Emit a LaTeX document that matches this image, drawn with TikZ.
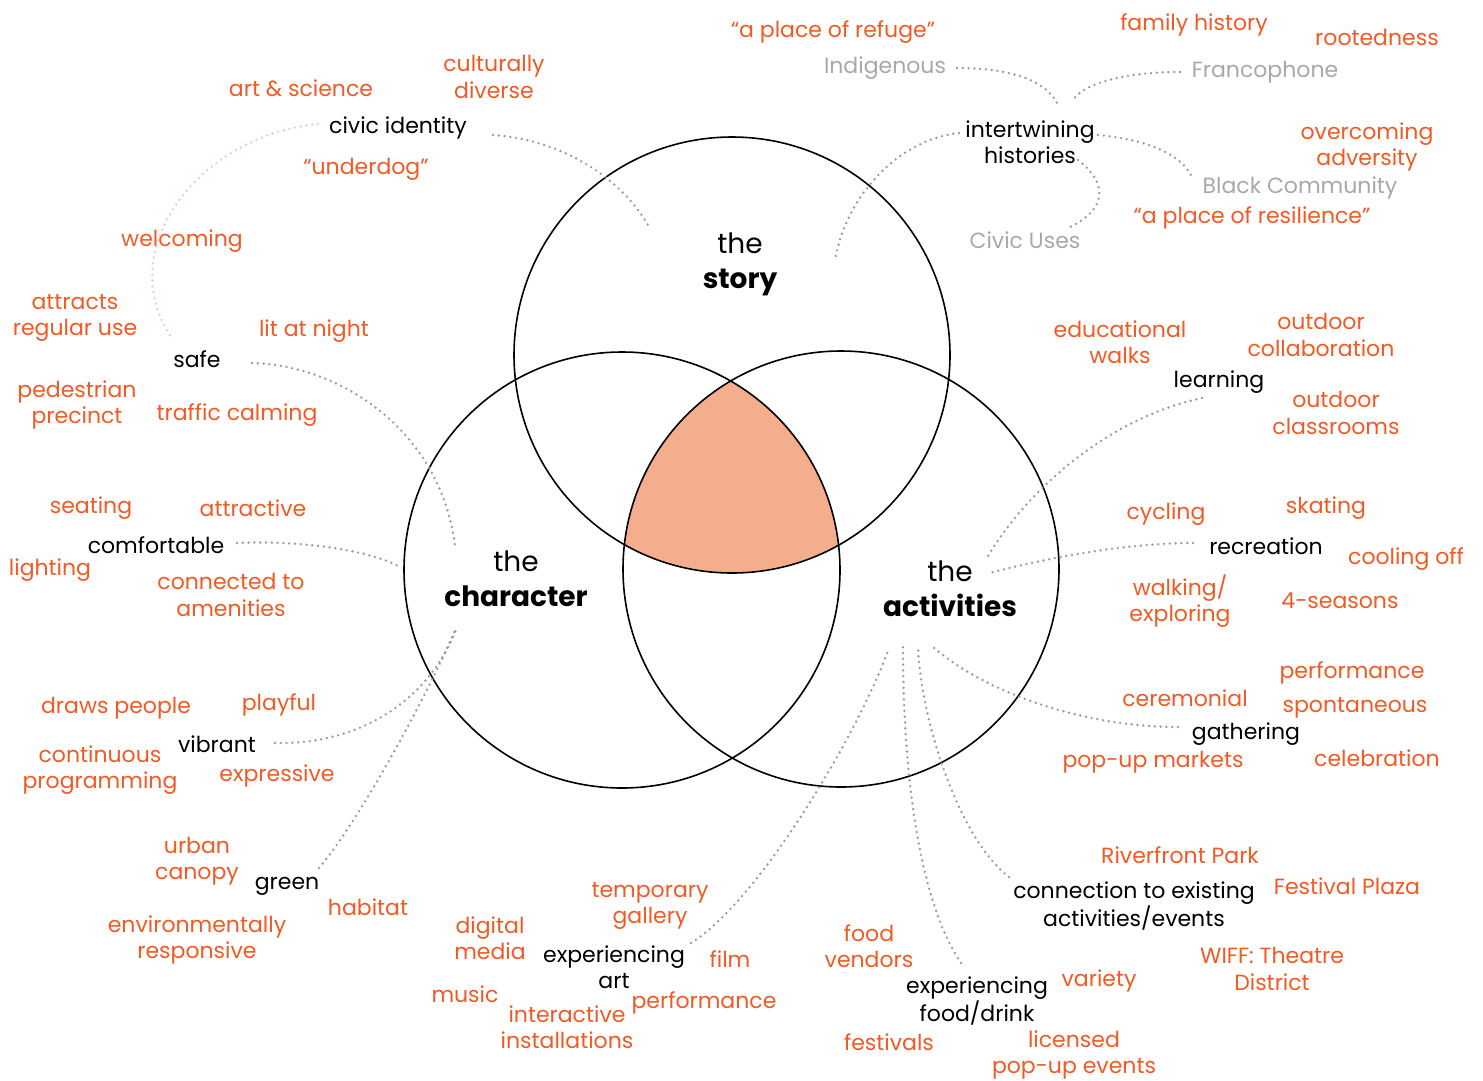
\documentclass[tikz,border=0pt]{standalone}
\usepackage{fontspec}
\setmainfont{Poppins}
\usetikzlibrary{calc}
\definecolor{orangetxt}{HTML}{F15A24}
\definecolor{greytxt}{HTML}{A8A8A8}
\definecolor{dotgrey}{HTML}{9C9C9C}
\definecolor{faintpink}{HTML}{EDCCC7}
\definecolor{peach}{HTML}{F5AE8D}

\begin{document}
\begin{tikzpicture}[x=1pt, y=-1pt,
    lbl/.style={font=\fontsize{22}{26.5}\selectfont, text=orangetxt, align=center, inner sep=0pt, yshift=-2pt},
    theme/.style={lbl, text=black},
    origin/.style={lbl, text=greytxt},
    title/.style={font=\fontsize{28}{35}\selectfont, align=center, inner sep=0pt},
    conn/.style={draw=dotgrey, line width=2.7pt, line cap=round, dash pattern=on 0pt off 5.8pt},
    faint/.style={conn, draw=faintpink}]
    \useasboundingbox (0,0) rectangle (1483,1080);

    \coordinate (S) at (732,355);
    \coordinate (C) at (622,570);
    \coordinate (A) at (841,569);

    % shared centre
    \begin{scope}
        \clip (S) circle[radius=218pt];
        \clip (C) circle[radius=218pt];
        \fill[peach] (A) circle[radius=218pt];
    \end{scope}
    \draw[line width=1.6pt] (S) circle[radius=218pt];
    \draw[line width=1.6pt] (C) circle[radius=218pt];
    \draw[line width=1.6pt] (A) circle[radius=218pt];

    \node[title] (story) at (740,264) {the\\\textbf{story}};
    \node[title] (character) at (516,579) {the\\\textbf{character}};
    \node[title] (activities) at (950,589) {the\\\textbf{activities}};

    % the story
    \node[theme] (civic) at (398,126) {civic identity};
    \node[lbl] (culture) at (494,75) {culturally\\diverse};
    \node[lbl] (artsci) at (301,86) {art \& science};
    \node[lbl] (underdog) at (366,167) {“underdog”};
    \node[lbl] (welcoming) at (182,239) {welcoming};
    \node[theme] (inter) at (1030,140) {intertwining\\histories};
    \node[origin] (indig) at (885,66) {Indigenous};
    \node[origin] (franco) at (1265,70) {Francophone};
    \node[origin] (black) at (1300,186) {Black Community};
    \node[origin] (civuse) at (1025,238) {Civic Uses};
    \node[lbl] (refuge) at (833,30) {“a place of refuge”};
    \node[lbl] (family) at (1194,23) {family history};
    \node[lbl] (rooted) at (1377,35) {rootedness};
    \node[lbl] (overcome) at (1367,145) {overcoming\\adversity};
    \node[lbl] (resil) at (1252,216) {“a place of resilience”};

    % the character
    \node[theme] (safe) at (197,357) {safe};
    \node[lbl] (attracts) at (75,316) {attracts\\regular use};
    \node[lbl] (litnight) at (314,329) {lit at night};
    \node[lbl] (pedest) at (77,403) {pedestrian\\precinct};
    \node[lbl] (traffic) at (237,413) {traffic calming};
    \node[theme] (comfort) at (156,543) {comfortable};
    \node[lbl] (seating) at (91,506) {seating};
    \node[lbl] (attract) at (253,506) {attractive};
    \node[lbl] (lighting) at (50,568) {lighting};
    \node[lbl] (amen) at (231,593) {connected to\\amenities};
    \node[theme] (vibrant) at (217,742) {vibrant};
    \node[lbl] (draws) at (116,706) {draws people};
    \node[lbl] (playful) at (279,703) {playful};
    \node[lbl] (contin) at (100,768) {continuous\\programming};
    \node[lbl] (express) at (277,774) {expressive};
    \node[theme] (green) at (287,884) {green};
    \node[lbl] (canopy) at (197,859) {urban\\canopy};
    \node[lbl] (habitat) at (368,905) {habitat};
    \node[lbl] (envir) at (197,938) {environmentally\\responsive};

    % the activities
    \node[theme] (learn) at (1219,380) {learning};
    \node[lbl] (edu) at (1120,340) {educational\\walks};
    \node[lbl] (collab) at (1321,333) {outdoor\\collaboration};
    \node[lbl] (classr) at (1336,411) {outdoor\\classrooms};
    \node[theme] (recr) at (1266,544) {recreation};
    \node[lbl] (cycling) at (1166,512) {cycling};
    \node[lbl] (skating) at (1326,506) {skating};
    \node[lbl] (cooling) at (1406,557) {cooling off};
    \node[lbl] (walking) at (1180,599) {walking/\\exploring};
    \node[lbl] (seasons) at (1340,599) {4-seasons};
    \node[theme] (gather) at (1246,732) {gathering};
    \node[lbl] (perf) at (1352,671) {performance};
    \node[lbl] (cerem) at (1185,696) {ceremonial};
    \node[lbl] (spont) at (1355,706) {spontaneous};
    \node[lbl] (markets) at (1153,760) {pop-up markets};
    \node[lbl] (celeb) at (1377,756) {celebration};
    \node[theme] (connect) at (1134,904) {connection to existing\\activities/events};
    \node[lbl] (river) at (1180,853) {Riverfront Park};
    \node[lbl] (plaza) at (1347,884) {Festival Plaza};
    \node[lbl] (wiff) at (1272,967) {WIFF: Theatre\\District};
    \node[theme] (food) at (977,999) {experiencing\\food/drink};
    \node[lbl] (vendors) at (869,944) {food\\vendors};
    \node[lbl] (variety) at (1099,979) {variety};
    \node[lbl] (fests) at (889,1040) {festivals};
    \node[lbl] (licen) at (1074,1053) {licensed\\pop-up events};
    \node[theme] (art) at (614,965) {experiencing\\art};
    \node[lbl] (tempg) at (650,904) {temporary\\gallery};
    \node[lbl] (digital) at (490,936) {digital\\media};
    \node[lbl] (film) at (730,957) {film};
    \node[lbl] (music) at (465,992) {music};
    \node[lbl] (perfart) at (704,1001) {performance};
    \node[lbl] (install) at (567,1025) {interactive\\installations};

    % ends inside the circles
    \coordinate (st1) at (648,225);
    \coordinate (st2) at (835,260);
    \coordinate (hub1) at (1057,103);
    \coordinate (hub2) at (1072,102);
    \coordinate (ch1) at (455,545);
    \coordinate (ch2) at (400,567);
    \coordinate (ch3) at (457,627);
    \coordinate (ch4) at (455,630);
    \coordinate (ac1) at (987,558);
    \coordinate (ac2) at (989,573);
    \coordinate (ac3) at (889,648);
    \coordinate (ac4) at (903,645);
    \coordinate (ac5) at (918,645);
    \coordinate (ac6) at (931,645);

    \draw[conn] (493,135) .. controls (565,140) and (622,180) .. (st1);
    \draw[faint] (318,124) .. controls (200,135) and (110,250) .. (173,340);
    \draw[conn] (959,133) .. controls (895,140) and (845,200) .. (st2);
    \draw[conn] (957,68) .. controls (1010,68) and (1045,80) .. (hub1);
    \draw[conn] (1180,72) .. controls (1120,72) and (1080,85) .. (hub2);
    \draw[conn] (1098,135) .. controls (1150,140) and (1180,155) .. (1191,175);
    \draw[conn] (1078,160) .. controls (1110,185) and (1105,210) .. (1070,227);
    \draw[conn] (252,363) .. controls (340,365) and (440,430) .. (ch1);
    \draw[conn] (237,543) .. controls (300,540) and (370,550) .. (ch2);
    \draw[conn] (275,743) .. controls (360,745) and (430,700) .. (ch3);
    \draw[conn] (319,868) .. controls (360,820) and (430,690) .. (ch4);
    \draw[conn] (691,943) .. controls (760,900) and (860,730) .. (ac3);
    \draw[conn] (1202,398) .. controls (1100,420) and (1020,500) .. (ac1);
    \draw[conn] (1193,543) .. controls (1120,543) and (1040,560) .. (ac2);
    \draw[conn] (1178,727) .. controls (1080,727) and (980,690) .. (ac6);
    \draw[conn] (1009,877) .. controls (960,840) and (920,720) .. (ac5);
    \draw[conn] (961,963) .. controls (925,910) and (903,800) .. (ac4);
\end{tikzpicture}
\end{document}
